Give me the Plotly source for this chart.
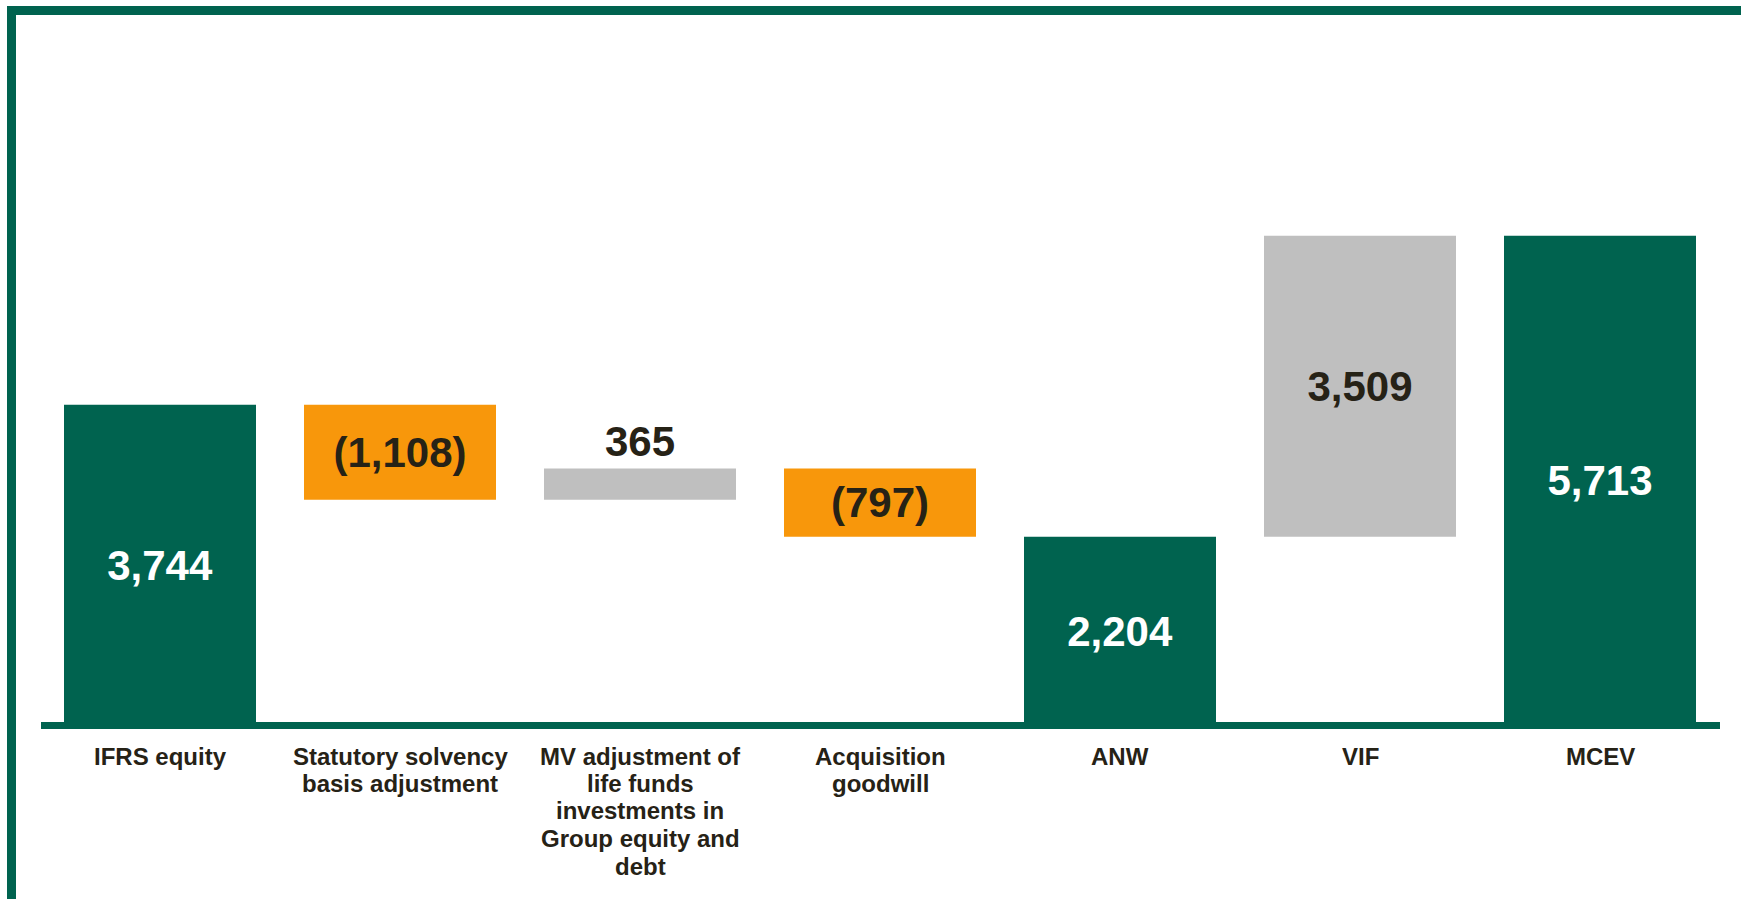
import plotly.graph_objects as go

# ---- data ----
categories = ["IFRS equity", "Statutory solvency<br>basis adjustment",
              "MV adjustment of<br>life funds<br>investments in<br>Group equity and<br>debt",
              "Acquisition<br>goodwill", "ANW", "VIF", "MCEV"]
values = [3744, -1108, 365, -797, 2204, 3509, 5713]
measures = ["absolute", "relative", "relative", "relative", "total", "relative", "total"]
value_labels = ["3,744", "(1,108)", "365", "(797)", "2,204", "3,509", "5,713"]

GREEN = "#00634F"
ORANGE = "#F8970B"
GREY = "#BFBFBF"
DARK = "#262216"
FONT = "Liberation Sans, Arial, sans-serif"

# compute floating bar bases from the values
bases, heights, colors, txtcolors, txtpos = [], [], [], [], []
running = 0
for v, m in zip(values, measures):
    if m == "absolute":
        bases.append(0); heights.append(v); running = v
        colors.append(GREEN); txtcolors.append("white")
    elif m == "total":
        bases.append(0); heights.append(running)
        colors.append(GREEN); txtcolors.append("white")
    else:
        if v < 0:
            bases.append(running + v); heights.append(-v)
            colors.append(ORANGE)
        else:
            bases.append(running); heights.append(v)
            colors.append(GREY)
        txtcolors.append(DARK)
        running += v
for h in heights:
    txtpos.append("outside" if h < 500 else "inside")

x_idx = list(range(len(categories)))

fig = go.Figure()
fig.add_trace(go.Bar(
    x=x_idx, y=heights, base=bases, width=0.8,
    marker=dict(color=colors, line=dict(width=0)),
    text=value_labels, textposition=txtpos, insidetextanchor="middle",
    textangle=0, constraintext="none", cliponaxis=False,
    textfont=dict(size=42, color=txtcolors, family=FONT, weight="bold"),
    hoverinfo="skip",
))

W, H = 1741, 899
L, R, T, B = 40, 21, 127, 173
PW, PH = W - L - R, H - T - B
YMAX = 6980


def px_x(p):
    return (p - L) / PW


def px_y(p):
    return (H - B - p) / PH


shapes = [
    # frame top
    dict(type="rect", xref="paper", yref="paper", x0=px_x(7), x1=px_x(W + 5),
         y0=px_y(15), y1=px_y(6), fillcolor=GREEN, line=dict(width=0), layer="above"),
    # frame left
    dict(type="rect", xref="paper", yref="paper", x0=px_x(7), x1=px_x(16),
         y0=px_y(H + 5), y1=px_y(6), fillcolor=GREEN, line=dict(width=0), layer="above"),
    # baseline
    dict(type="rect", xref="paper", yref="paper", x0=px_x(41), x1=px_x(1720),
         y0=px_y(729), y1=px_y(722), fillcolor=GREEN, line=dict(width=0), layer="above"),
]

annotations = []
for i, lab in enumerate(categories):
    for j, line in enumerate(lab.split("<br>")):
        annotations.append(dict(
            x=i, xref="x", y=px_y(756 + 27.5 * j), yref="paper",
            text=line, showarrow=False, xanchor="center", yanchor="middle",
            font=dict(size=24, color=DARK, family=FONT, weight="bold"),
        ))

fig.update_layout(
    width=W, height=H,
    margin=dict(l=L, r=R, t=T, b=B, pad=0),
    paper_bgcolor="white", plot_bgcolor="white",
    showlegend=False, bargap=0.2,
    xaxis=dict(range=[-0.5, 6.5], showticklabels=False, showgrid=False,
               zeroline=False, showline=False, fixedrange=True),
    yaxis=dict(range=[0, YMAX], showticklabels=False, showgrid=False,
               zeroline=False, showline=False, fixedrange=True),
    shapes=shapes, annotations=annotations,
)

fig.write_html("out.html", config={"displayModeBar": False},
               post_script="document.body.style.margin='0';document.body.style.overflow='hidden';")
